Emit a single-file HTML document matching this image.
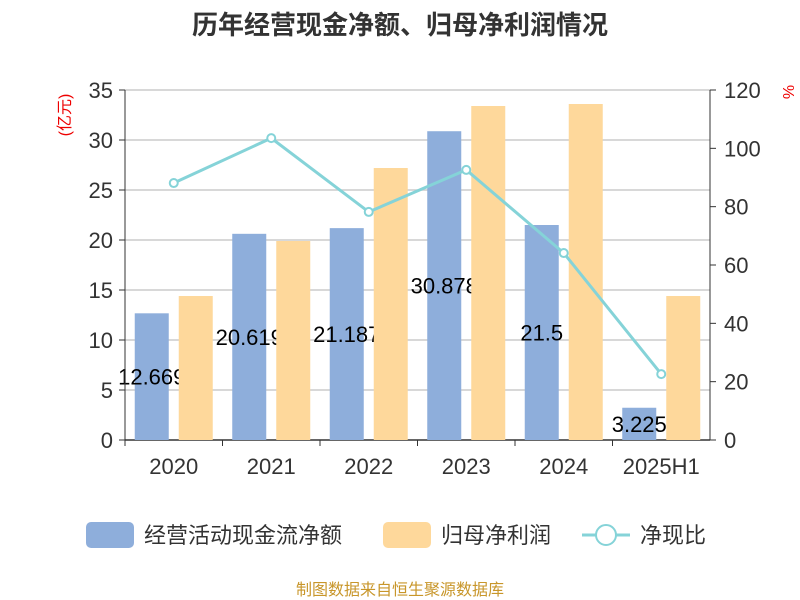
<!DOCTYPE html>
<html><head><meta charset="utf-8"><style>
body{margin:0;background:#fff;}
svg{display:block;font-family:"Liberation Sans","Noto Sans CJK SC",sans-serif;}
</style></head><body>
<svg id="c" width="800" height="600">
<text x="400" y="34" text-anchor="middle" font-size="26" font-weight="bold" fill="#333">历年经营现金净额、归母净利润情况</text>
<text transform="translate(70,115) rotate(-90)" text-anchor="middle" font-size="16" fill="#e00">(亿元)</text>
<text transform="translate(783,92) rotate(90)" text-anchor="middle" font-size="16" fill="#e00">%</text>
<g id="grid"></g><g id="blue"></g><g id="labels"></g><g id="orange"></g><g id="line"></g><g id="axes"></g>
<g>
<rect x="86" y="522" width="48" height="26" rx="5" fill="#8eaedb"/>
<text x="144" y="543" font-size="22" fill="#333">经营活动现金流净额</text>
<rect x="383" y="522" width="48" height="26" rx="5" fill="#fed89b"/>
<text x="441" y="543" font-size="22" fill="#333">归母净利润</text>
<line x1="582" y1="535" x2="630" y2="535" stroke="#85d3d8" stroke-width="3"/>
<circle cx="606" cy="535" r="10" fill="#fff" stroke="#85d3d8" stroke-width="2"/>
<text x="640" y="543" font-size="22" fill="#333">净现比</text>
</g>
<text x="400" y="595" text-anchor="middle" font-size="16" fill="#c8962a">制图数据来自恒生聚源数据库</text>
</svg>
<script>
const categories=["2020","2021","2022","2023","2024","2025H1"];
const cashValues=[12.669,20.619,21.187,30.878,21.5,3.225];
const cashLabels=["12.669","20.619","21.187","30.878","21.5","3.225"];
const profitValues=[14.4,19.9,27.2,33.4,33.6,14.4];
const ratioValues=[88.1,103.5,78.2,92.6,64.1,22.6];
const leftTicks=[0,5,10,15,20,25,30,35];
const rightTicks=[0,20,40,60,80,100,120];
const NS="http://www.w3.org/2000/svg";
const X0=125,X1=710,Y0=440,Y1=90;
const bw=(X1-X0)/categories.length;
const yL=v=>Y0-(v/35)*(Y0-Y1);
const yR=v=>Y0-(v/120)*(Y0-Y1);
const xc=i=>X0+bw*(i+0.5);
function mk(tag,attrs,parent){const e=document.createElementNS(NS,tag);for(const k in attrs)e.setAttribute(k,attrs[k]);document.getElementById(parent).appendChild(e);return e;}
leftTicks.forEach(t=>{
 const g=mk('line',{x1:X0,x2:X1,y1:yL(t),y2:yL(t),stroke:t===0?'#333':'#ccc','stroke-width':1.5},'grid');
 
 
 const tk=mk('line',{x1:X0-6,x2:X0,y1:yL(t),y2:yL(t),stroke:'#333'},'axes');
 
 
 const tx=mk('text',{x:X0-12,y:yL(t)+8,'text-anchor':'end','font-size':22,fill:'#333'},'axes');
 tx.textContent=t;
 
 
});
rightTicks.forEach(t=>{
 const tk=mk('line',{x1:X1,x2:X1+6,y1:yR(t),y2:yR(t),stroke:'#333'},'axes');
 
 
 const tx=mk('text',{x:X1+14,y:yR(t)+8,'font-size':22,fill:'#333'},'axes');
 tx.textContent=t;
 
 
});
const la=mk('line',{x1:X0,x2:X0,y1:Y1,y2:Y0,stroke:'#333'},'axes');


const ra=mk('line',{x1:X1,x2:X1,y1:Y1,y2:Y0,stroke:'#333'},'axes');


categories.forEach((c,i)=>{
 const tk=mk('line',{x1:X0+bw*i,x2:X0+bw*i,y1:Y0,y2:Y0+6,stroke:'#333'},'axes');
 
 
 const tx=mk('text',{x:xc(i),y:Y0+34,'text-anchor':'middle','font-size':22,fill:'#333'},'axes');
 tx.textContent=c;
 
 
 const b=mk('rect',{x:xc(i)-39,y:yL(cashValues[i]),width:34,height:Y0-yL(cashValues[i]),fill:'#8eaedb'},'blue');
 
 
 const l=mk('text',{x:xc(i)-22,y:(yL(cashValues[i])+Y0)/2+8,'text-anchor':'middle','font-size':22,fill:'#000'},'labels');
 l.textContent=cashLabels[i];
 
 
 const o=mk('rect',{x:xc(i)+5,y:yL(profitValues[i]),width:34,height:Y0-yL(profitValues[i]),fill:'#fed89b'},'orange');
 
 
});
const pts=ratioValues.map((v,i)=>xc(i)+','+yR(v)).join(' ');
const pl=mk('polyline',{points:pts,fill:'none',stroke:'#85d3d8','stroke-width':3},'line');


ratioValues.forEach((v,i)=>{
 const p=mk('circle',{cx:xc(i),cy:yR(v),r:4,fill:'#fff',stroke:'#85d3d8','stroke-width':2},'line');
 
 
});
</script>
</body></html>
